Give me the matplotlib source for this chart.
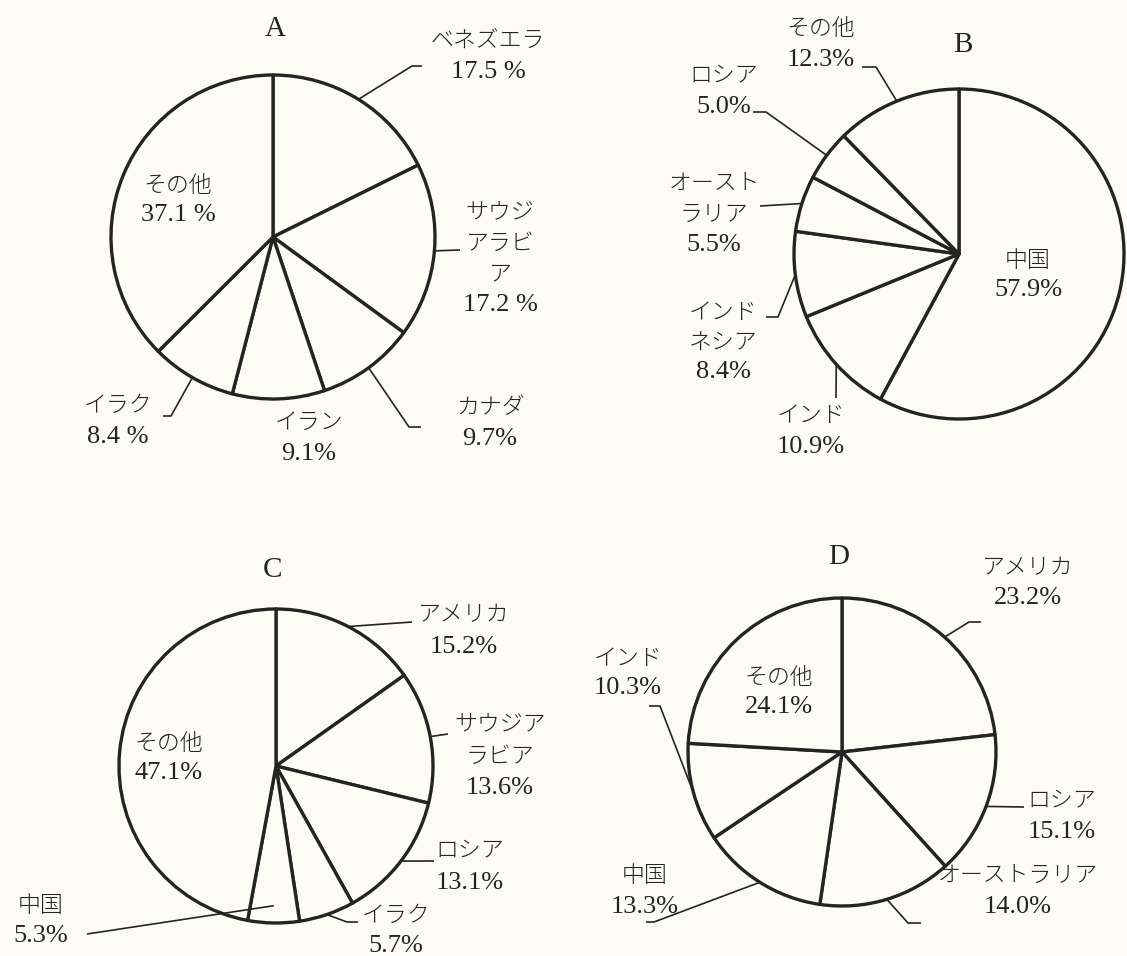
import matplotlib
matplotlib.use('Agg')
import matplotlib.pyplot as plt
import numpy as np

W, H = 1127, 956

# ---------------- data ----------------
titles = ['A', 'B', 'C', 'D']

a_labels = ['ベネズエラ', 'サウジアラビア', 'カナダ', 'イラン', 'イラク', 'その他']
a_values = [17.5, 17.2, 9.7, 9.1, 8.4, 37.1]

b_labels = ['中国', 'インド', 'インドネシア', 'オーストラリア', 'ロシア', 'その他']
b_values = [57.9, 10.9, 8.4, 5.5, 5.0, 12.3]

c_labels = ['アメリカ', 'サウジアラビア', 'ロシア', 'イラク', '中国', 'その他']
c_values = [15.2, 13.6, 13.1, 5.7, 5.3, 47.1]

d_labels = ['アメリカ', 'ロシア', 'オーストラリア', '中国', 'インド', 'その他']
d_values = [23.2, 15.1, 14.0, 13.3, 10.3, 24.1]

# ---------------- layout (pixel coordinates, y downward) ----------------
pie_geom = {
    'A': dict(center=(273, 237), r=162, title=(275, 29)),
    'B': dict(center=(959, 254), r=165, title=(963, 45)),
    'C': dict(center=(276, 766), r=157, title=(273, 570)),
    'D': dict(center=(842, 752), r=154, title=(839, 557)),
}

# per slice: x, first line y, line gap, wrap width, pct separator, leader points, anchor radius fraction
label_layout = {
    'A': [
        dict(x=488, y=40, gap=32, wrap=9, sep=' ', leader=[(412, 66), (422, 66)]),
        dict(x=500, y=213, gap=30.5, wrap=3, sep=' ', leader=[(460, 250)]),
        dict(x=490, y=408, gap=31, wrap=9, sep='', leader=[(409, 427), (421, 427)]),
        dict(x=309, y=422, gap=32, wrap=9, sep='', leader=None),
        dict(x=118, y=405, gap=32, wrap=9, sep=' ', leader=[(171, 416), (163, 416)]),
        dict(x=178, y=185, gap=30, wrap=9, sep=' ', leader=None),
    ],
    'B': [
        dict(x=1028, y=260, gap=30, wrap=9, sep='', leader=None),
        dict(x=811, y=415, gap=32, wrap=9, sep='', leader=[(836, 398)]),
        dict(x=723, y=312, gap=30, wrap=3, sep='', leader=[(778, 317), (766, 317)]),
        dict(x=714, y=183, gap=31, wrap=4, sep='', leader=[(760, 206)]),
        dict(x=724, y=75, gap=32, wrap=9, sep='', leader=[(766, 112), (753, 112)]),
        dict(x=821, y=28, gap=32, wrap=9, sep='', leader=[(876, 67), (862, 67)]),
    ],
    'C': [
        dict(x=464, y=615, gap=32, wrap=9, sep='', leader=[(412, 622)]),
        dict(x=500, y=725, gap=31.5, wrap=4, sep='', leader=[(448, 734)]),
        dict(x=470, y=850, gap=33, wrap=9, sep='', leader=[(434, 861)]),
        dict(x=396, y=915, gap=31, wrap=9, sep='', leader=[(347, 922), (358, 922)]),
        dict(x=41, y=905, gap=31, wrap=9, sep='', leader=[(87, 934)], rfrac=0.89),
        dict(x=169, y=743, gap=30, wrap=9, sep='', leader=None),
    ],
    'D': [
        dict(x=1028, y=568, gap=30, wrap=9, sep='', leader=[(969, 622), (981, 622)]),
        dict(x=1062, y=800, gap=32, wrap=9, sep='', leader=[(1024, 807)]),
        dict(x=1018, y=875, gap=32, wrap=9, sep='', leader=[(908, 923), (921, 923)]),
        dict(x=645, y=875, gap=32, wrap=9, sep='', leader=[(654, 922), (646, 922)]),
        dict(x=628, y=658, gap=30, wrap=9, sep='', leader=[(660, 706), (649, 706)]),
        dict(x=779, y=678, gap=29, wrap=9, sep='', leader=None),
    ],
}

BG = '#fcfcf5'
INK = '#242424'
JP = ['Noto Sans CJK JP', 'DejaVu Sans']
NUM = ['Liberation Serif', 'DejaVu Serif']

fig = plt.figure(figsize=(W / 100, H / 100), dpi=100, facecolor=BG)
ax = fig.add_axes([0, 0, 1, 1])
ax.set_facecolor(BG)


def Y(y):
    return H - y


def wrap(s, n):
    return [s[i:i + n] for i in range(0, len(s), n)]


datasets = {
    'A': (a_labels, a_values),
    'B': (b_labels, b_values),
    'C': (c_labels, c_values),
    'D': (d_labels, d_values),
}

for key in titles:
    labels, values = datasets[key]
    g = pie_geom[key]
    cx, cy = g['center']
    r = g['r']
    wedges, _ = ax.pie(values, center=(cx, Y(cy)), radius=r, startangle=90,
                       counterclock=False,
                       wedgeprops=dict(facecolor=BG, edgecolor=INK, linewidth=2.4,
                                       joinstyle='round'))
    tx, ty = g['title']
    ax.text(tx, Y(ty), key, ha='center', va='center', fontsize=21,
            family=NUM, color=INK)

    for w, lab, val, lay in zip(wedges, labels, values, label_layout[key]):
        lines = wrap(lab, lay['wrap'])
        y = lay['y']
        for ln in lines:
            ax.text(lay['x'], Y(y), ln, ha='center', va='center', fontsize=16.5,
                    family=JP, weight='light', color=INK)
            y += lay['gap']
        ax.text(lay['x'], Y(y), f"{val:.1f}{lay['sep']}%", ha='center', va='center',
                fontsize=19, family=NUM, color=INK)
        if lay['leader']:
            th = np.deg2rad((w.theta1 + w.theta2) / 2)
            rf = lay.get('rfrac', 1.0)
            ax0 = cx + r * rf * np.cos(th)
            ay0 = Y(cy) + r * rf * np.sin(th)
            xs = [ax0] + [p[0] for p in lay['leader']]
            ys = [ay0] + [Y(p[1]) for p in lay['leader']]
            ax.plot(xs, ys, color=INK, lw=1.2, solid_capstyle='butt', zorder=3)

ax.set_xlim(0, W)
ax.set_ylim(0, H)
ax.set_aspect('equal')
ax.axis('off')

fig.savefig('out.png', dpi=100, facecolor=BG)
